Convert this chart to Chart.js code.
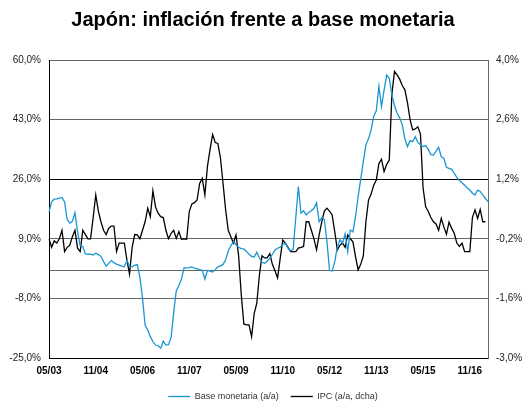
<!DOCTYPE html>
<html>
<head>
<meta charset="utf-8">
<script src="https://cdn.jsdelivr.net/npm/chart.js@4.4.0/dist/chart.umd.min.js"></script>
<style>
    html, body { margin: 0; padding: 0; background: #fff; }
    #wrap { width: 526px; height: 403px; position: relative; }
</style>
</head>
<body>
<div id="wrap"><canvas id="chart"></canvas></div>
<script>
// Monthly categories, 05/2003 .. 06/2017
const firstMonth = { year: 2003, month: 5 };
const monthCount = 170;
const months = [];
for (let i = 0; i < monthCount; i++) {
    const m = (firstMonth.month - 1 + i) % 12 + 1;
    const y = firstMonth.year + Math.floor((firstMonth.month - 1 + i) / 12);
    months.push(String(m).padStart(2, '0') + '/' + String(y % 100).padStart(2, '0'));
}

// Tick labels shown on the x axis
const xTickLabels = ['05/03', '11/04', '05/06', '11/07', '05/09', '11/10', '05/12', '11/13', '05/15', '11/16'];
const leftTicks = [-25, -8, 0, 9, 26, 43, 60];
const rightTicks = [-3.0, -1.6, -0.2, 1.2, 2.6, 4.0];

// Base monetaria (a/a), % - left axis
const baseMonetaria = [
    16.7, 19.5, 20.3, 20.4, 20.6, 20.8, 19.5, 14.5, 13.5, 14.0,
    16.4, 11.0, 7.0, 6.8, 4.7, 4.6, 4.6, 4.4, 4.9, 4.5,
    4.0, 2.5, 1.2, 2.0, 2.8, 2.2, 1.8, 1.5, 1.2, 1.0,
    2.8, 1.3, 1.0, 1.5, 1.6, -2.0, -8.0, -15.6, -17.0, -18.9,
    -20.3, -21.3, -21.5, -22.2, -20.2, -21.3, -21.2, -19.2, -12.0, -5.8,
    -4.3, -2.5, 0.7, 0.7, 0.8, 1.0, 0.6, 0.4, 0.2, 0.0,
    -2.5, 0.0, -0.2, -0.5, 0.2, 1.0, 1.3, 1.7, 3.0, 5.5,
    7.0, 8.2, 7.3, 6.6, 6.2, 6.1, 5.4, 4.6, 4.0, 3.8,
    5.2, 3.6, 2.3, 2.0, 2.6, 3.4, 4.6, 5.8, 6.3, 6.6,
    7.4, 7.7, 6.3, 5.6, 6.0, 15.0, 23.9, 16.3, 17.0, 15.8,
    16.5, 17.0, 17.7, 19.3, 13.9, 15.0, 14.5, 8.2, 0.0, -0.2,
    2.5, 6.7, 8.7, 7.8, 10.4, 5.3, 11.5, 11.0, 15.3, 21.0,
    26.0, 31.0, 35.8, 37.5, 40.0, 44.0, 45.5, 52.5, 46.7, 51.5,
    55.7, 54.8, 50.0, 47.0, 44.8, 43.5, 41.5, 37.5, 35.3, 37.0,
    36.7, 38.1, 36.5, 35.8, 35.3, 35.6, 34.5, 33.0, 32.9, 34.0,
    35.1, 32.4, 32.0, 29.4, 29.1, 28.8, 27.7, 26.5, 25.6, 25.0,
    24.3, 23.5, 22.9, 22.0, 21.5, 22.9, 22.5, 21.5, 20.5, 19.6
];

// IPC (a/a), % - right axis
const ipc = [
    -0.2, -0.4, -0.25, -0.3, -0.2, 0.0, -0.5, -0.4, -0.35, -0.15,
    0.0, -0.42, -0.5, 0.0, -0.1, -0.2, -0.2, 0.3, 0.83, 0.45,
    0.2, 0.0, -0.1, 0.05, 0.1, 0.1, -0.5, -0.3, -0.3, -0.3,
    -0.7, -1.03, -0.4, -0.1, -0.11, -0.2, 0.0, 0.2, 0.52, 0.32,
    0.93, 0.55, 0.4, 0.32, 0.3, 0.0, -0.2, -0.07, 0.0, -0.19,
    -0.03, -0.21, -0.2, -0.21, 0.44, 0.62, 0.65, 0.71, 1.1, 1.22,
    0.83, 1.5, 1.9, 2.25, 2.06, 2.04, 1.7, 1.1, 0.48, 0.0,
    -0.15, -0.3, -0.11, -0.6, -1.5, -2.2, -2.22, -2.22, -2.5, -1.95,
    -1.71, -1.05, -0.6, -0.65, -0.65, -0.55, -0.8, -0.95, -1.12, -0.66,
    -0.23, -0.3, -0.4, -0.5, -0.5, -0.5, -0.42, -0.4, -0.38, 0.2,
    0.2, 0.0, -0.2, -0.46, -0.11, 0.2, 0.45, 0.52, 0.45, 0.36,
    -0.03, -0.46, -0.35, -0.3, -0.4, -0.11, -0.2, -0.27, -0.62, -0.93,
    -0.8, -0.6, 0.2, 0.71, 0.85, 1.06, 1.18, 1.57, 1.67, 1.38,
    1.55, 1.65, 3.2, 3.73, 3.65, 3.55, 3.4, 3.3, 3.0, 2.6,
    2.36, 2.38, 2.43, 2.26, 1.0, 0.55, 0.44, 0.3, 0.2, 0.15,
    0.0, 0.28, 0.08, -0.09, 0.19, 0.05, -0.07, -0.3, -0.38, -0.3,
    -0.5, -0.5, -0.5, 0.3, 0.48, 0.28, 0.49, 0.2, 0.2, null
];

const fmtPct = v => v.toFixed(1).replace('.', ',') + '%';

// nudge the legend a bit to the right, like the original
const legendNudge = {
    id: 'legendNudge',
    afterLayout(chart) {
        const l = chart.legend;
        if (!l) return;
        l.left += 10; l.right += 10;
    }
};

const ctx = document.getElementById('chart');

new Chart(ctx, {
    type: 'line',
    data: {
        labels: months,
        datasets: [
            {
                label: 'Base monetaria (a/a)',
                data: baseMonetaria,
                yAxisID: 'y',
                borderColor: '#1996d2',
                backgroundColor: '#1996d2',
                borderWidth: 1.3,
                pointRadius: 0,
                tension: 0,
                pointStyle: 'line'
            },
            {
                label: 'IPC (a/a, dcha)',
                data: ipc,
                yAxisID: 'y1',
                borderColor: '#000',
                backgroundColor: '#000',
                borderWidth: 1.3,
                pointRadius: 0,
                tension: 0,
                pointStyle: 'line'
            }
        ]
    },
    plugins: [legendNudge],
    options: {
        responsive: true,
        maintainAspectRatio: false,
        devicePixelRatio: 1,
        animation: false,
        // negative bottom padding pushes the legend down near the edge
        layout: { padding: { left: 0, right: 0, top: 0, bottom: -8 } },
        plugins: {
            title: {
                display: true,
                text: 'Japón: inflación frente a base monetaria',
                color: '#000',
                font: { family: 'Liberation Sans', size: 20, weight: 'bold' },
                padding: { top: 8, bottom: 28 }
            },
            legend: {
                position: 'bottom',
                labels: {
                    color: '#333',
                    font: { family: 'Liberation Sans', size: 9 },
                    usePointStyle: true,
                    pointStyle: 'line',
                    pointStyleWidth: 22,
                    padding: 12
                }
            },
            tooltip: { enabled: false }
        },
        scales: {
            x: {
                offset: false,
                grid: { display: false, drawTicks: false },
                border: { color: '#000', width: 1 },
                ticks: {
                    autoSkip: false,
                    maxRotation: 0,
                    padding: 7,
                    color: '#000',
                    font: { family: 'Liberation Sans', size: 10, weight: 'bold' },
                    callback: function(value, index) {
                        const lbl = months[index];
                        return xTickLabels.includes(lbl) ? lbl : null;
                    }
                },
                afterFit: scale => { scale.height = 22; }
            },
            y: {
                position: 'left',
                min: -25,
                max: 60,
                afterBuildTicks: scale => { scale.ticks = leftTicks.map(v => ({ value: v })); },
                afterFit: scale => { scale.width = 49; },
                grid: {
                    drawTicks: false,
                    color: c => (c.tick && c.tick.value === 26) ? '#000' : '#666',
                    lineWidth: 1
                },
                border: { color: '#000', width: 1 },
                ticks: {
                    padding: 8,
                    color: '#222',
                    font: { family: 'Liberation Sans', size: 10 },
                    callback: v => v === 0 ? '' : fmtPct(v)
                }
            },
            y1: {
                position: 'right',
                min: -3,
                max: 4,
                afterBuildTicks: scale => { scale.ticks = rightTicks.map(v => ({ value: v })); },
                afterFit: scale => { scale.width = 38; },
                grid: { display: false, drawTicks: false },
                border: { color: '#666', width: 1 },
                ticks: {
                    padding: 8,
                    color: '#222',
                    font: { family: 'Liberation Sans', size: 10 },
                    callback: v => fmtPct(v)
                }
            }
        }
    }
});
</script>
</body>
</html>
